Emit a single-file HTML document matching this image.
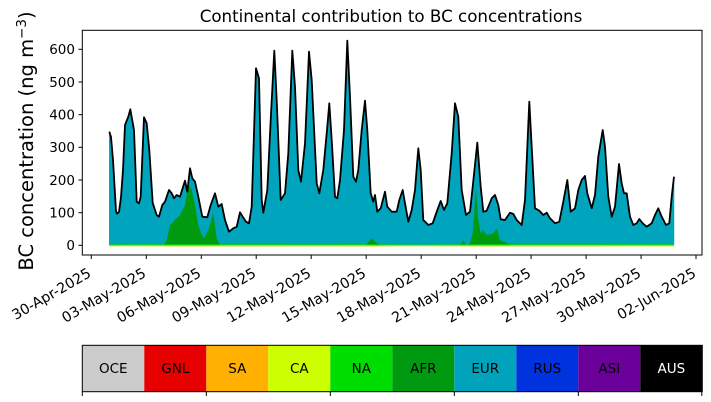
<!DOCTYPE html>
<html><head><meta charset="utf-8"><style>
html,body{margin:0;padding:0;background:#fff;}
svg{display:block;font-family:"DejaVu Sans","Liberation Sans",sans-serif;}
</style></head><body>
<svg width="711" height="402" viewBox="0 0 711 402" xmlns="http://www.w3.org/2000/svg">
<rect width="711" height="402" fill="#fff"/>
<text x="391" y="22" font-size="16.7" text-anchor="middle">Continental contribution to BC concentrations</text>
<!-- EUR area -->
<polygon fill="#00a5bd" stroke="#00a5bd" stroke-width="0.5" points="109.3,245.3 109.3,131.7 111,137 113,160 116,211 117,213.7 119,212 121,197 123,170 125,125 128.3,116.7 130.3,109.3 134,130 136.7,201.7 139,203.3 140.7,196.7 144,117.3 146.7,123.3 149.3,150 152.7,203 156.7,215 159,216.7 162.3,205 165,201.7 169,190 171.7,193.3 174,198.3 176.7,195 180,196.7 185,180.7 187.3,191.7 190,168.3 192.3,178.3 195,181.7 198.3,196.7 202.3,216.7 207.3,217.3 210.7,205 215,193.3 218.3,206.7 221.7,204 225,220 229,231.7 233.3,228.3 236.7,226.7 240,212.3 242.7,216.7 246,221.7 249,223.3 251.7,206.7 256,68.3 259,78.3 261.7,200 263.3,212.7 267.3,190 270.7,120 274.3,50.7 276.7,100 280.7,200 285,193.3 288.3,153.3 292.3,50.7 295,86.7 298.3,170 301,181.7 305,143.3 309,51.7 311.7,80 316.7,183.3 319.3,193.3 323.3,170 327.3,126.7 329.3,103.3 331.7,140 335,196.7 337.3,198.3 340,180 344,130 347.3,40.7 350,96.7 353.3,176.7 356,181.7 358.3,170 361.7,130 365,100.7 367.3,130 370.7,193.3 373.3,201.7 375,195 377.3,211.7 380.7,208.3 385,191.7 387.3,206.7 391.7,211.7 396.7,211.7 399.3,200 402.7,190 405,203.3 408.3,221.7 411.7,210 415,190 418.3,148.3 420.7,170 423.3,220 428.3,225 432.7,223.3 436.7,211.7 440.7,201 444,210 447.3,203.3 451.7,153.3 455,103.3 458.3,116.7 461.7,190 466,215 470,211.7 472.7,186.7 477.3,142.7 480.7,186.7 483.3,211.7 486.7,210.7 491.7,198.3 495,195 498.3,205 500.7,219.3 505,220 510,212.7 513.3,214 516.7,220 521.7,225 525,200 529.3,101.7 531.7,146.7 535,208.3 539.3,210.7 543.3,215 546.7,212.7 550,218.3 555,223.3 559.3,221.7 563.3,201.7 567.3,180 570.7,211.7 575,208.3 578.3,190 581.7,180 585,176 587.3,193.3 591.7,208.3 595,195 598.3,156.7 602.7,130 605,146.7 608.3,196.7 611.7,216.7 615,206.7 619,164 621.7,183.3 624,193.3 626.7,193.3 630,216.7 633.3,225 636.7,223.3 639.3,219 642.7,223.3 646.7,226.7 651.7,223.3 655,215 658.3,208.3 661.7,216.7 666,225 669.3,223.3 671.7,196.7 674,176.7 674,245.3"/>
<!-- AFR -->
<polygon fill="#009a10" points="164,245.3 166.7,240 170,225 173,222 176.7,218 180,215 185,205 188.3,183.3 191.7,190 195,205 198.3,225 201.7,235 204,238.3 208.3,230 213.3,213.3 216.7,238 220,245.3"/>
<polygon fill="#009a10" points="366,245.3 371.7,238.3 378,244 384,245.3"/>
<polygon fill="#009a10" points="460,245.3 463.3,240 466,245.3 468,245.3 470,243 472.7,233 476,188 478.3,220 480.7,233 483.3,230 486.7,235 493.3,233.3 496.7,228.3 500,240 506.7,243 512,245.3"/>
<!-- NA / CA thin baseline -->
<polyline fill="none" stroke="#00dd00" stroke-width="0.8" points="109.3,244.8 240,244.4 300,244.8 360,244.6 420,245 520,244.4 600,244.4 674,244.3"/>
<polyline fill="none" stroke="#d8c800" stroke-width="0.6" opacity="0.7" points="109.3,246.2 200,246.4 300,246.4 400,246.5 500,246.3 600,246.6 674,246.4"/>
<!-- total line -->
<polyline fill="none" stroke="#000" stroke-width="1.8" stroke-linejoin="round" points="109.3,131.7 111,137 113,160 116,211 117,213.7 119,212 121,197 123,170 125,125 128.3,116.7 130.3,109.3 134,130 136.7,201.7 139,203.3 140.7,196.7 144,117.3 146.7,123.3 149.3,150 152.7,203 156.7,215 159,216.7 162.3,205 165,201.7 169,190 171.7,193.3 174,198.3 176.7,195 180,196.7 185,180.7 187.3,191.7 190,168.3 192.3,178.3 195,181.7 198.3,196.7 202.3,216.7 207.3,217.3 210.7,205 215,193.3 218.3,206.7 221.7,204 225,220 229,231.7 233.3,228.3 236.7,226.7 240,212.3 242.7,216.7 246,221.7 249,223.3 251.7,206.7 256,68.3 259,78.3 261.7,200 263.3,212.7 267.3,190 270.7,120 274.3,50.7 276.7,100 280.7,200 285,193.3 288.3,153.3 292.3,50.7 295,86.7 298.3,170 301,181.7 305,143.3 309,51.7 311.7,80 316.7,183.3 319.3,193.3 323.3,170 327.3,126.7 329.3,103.3 331.7,140 335,196.7 337.3,198.3 340,180 344,130 347.3,40.7 350,96.7 353.3,176.7 356,181.7 358.3,170 361.7,130 365,100.7 367.3,130 370.7,193.3 373.3,201.7 375,195 377.3,211.7 380.7,208.3 385,191.7 387.3,206.7 391.7,211.7 396.7,211.7 399.3,200 402.7,190 405,203.3 408.3,221.7 411.7,210 415,190 418.3,148.3 420.7,170 423.3,220 428.3,225 432.7,223.3 436.7,211.7 440.7,201 444,210 447.3,203.3 451.7,153.3 455,103.3 458.3,116.7 461.7,190 466,215 470,211.7 472.7,186.7 477.3,142.7 480.7,186.7 483.3,211.7 486.7,210.7 491.7,198.3 495,195 498.3,205 500.7,219.3 505,220 510,212.7 513.3,214 516.7,220 521.7,225 525,200 529.3,101.7 531.7,146.7 535,208.3 539.3,210.7 543.3,215 546.7,212.7 550,218.3 555,223.3 559.3,221.7 563.3,201.7 567.3,180 570.7,211.7 575,208.3 578.3,190 581.7,180 585,176 587.3,193.3 591.7,208.3 595,195 598.3,156.7 602.7,130 605,146.7 608.3,196.7 611.7,216.7 615,206.7 619,164 621.7,183.3 624,193.3 626.7,193.3 630,216.7 633.3,225 636.7,223.3 639.3,219 642.7,223.3 646.7,226.7 651.7,223.3 655,215 658.3,208.3 661.7,216.7 666,225 669.3,223.3 671.7,196.7 674,176.7"/>
<!-- axes -->
<rect x="82.3" y="30.3" width="619.7" height="224.7" fill="none" stroke="#000" stroke-width="1"/>
<g stroke="#000" stroke-width="1">
<line x1="78.5" y1="245.3" x2="82.3" y2="245.3"/><line x1="78.5" y1="212.7" x2="82.3" y2="212.7"/><line x1="78.5" y1="180" x2="82.3" y2="180"/><line x1="78.5" y1="147.3" x2="82.3" y2="147.3"/><line x1="78.5" y1="114.7" x2="82.3" y2="114.7"/><line x1="78.5" y1="82" x2="82.3" y2="82"/><line x1="78.5" y1="49.3" x2="82.3" y2="49.3"/>
</g>
<g font-size="13.5" text-anchor="end">
<text x="75" y="250">0</text><text x="75" y="217.5">100</text><text x="75" y="185">200</text><text x="75" y="152">300</text><text x="75" y="119.5">400</text><text x="75" y="87">500</text><text x="75" y="54">600</text>
</g>
<text transform="translate(33,141) rotate(-90)" font-size="19.5" text-anchor="middle">BC concentration (ng m<tspan dy="-7" font-size="13.5">−3</tspan><tspan dy="7">)</tspan></text>
<g stroke="#000" stroke-width="1">
<line x1="91.3" y1="255" x2="91.3" y2="259"/><line x1="146.3" y1="255" x2="146.3" y2="259"/><line x1="201.3" y1="255" x2="201.3" y2="259"/><line x1="256.2" y1="255" x2="256.2" y2="259"/><line x1="311.2" y1="255" x2="311.2" y2="259"/><line x1="366.2" y1="255" x2="366.2" y2="259"/><line x1="421.2" y1="255" x2="421.2" y2="259"/><line x1="476.2" y1="255" x2="476.2" y2="259"/><line x1="531.1" y1="255" x2="531.1" y2="259"/><line x1="586.1" y1="255" x2="586.1" y2="259"/><line x1="641.1" y1="255" x2="641.1" y2="259"/><line x1="696" y1="255" x2="696" y2="259"/>
</g>
<g font-size="14.3" text-anchor="end">
<text transform="translate(92,276) rotate(-30)">30-Apr-2025</text>
<text transform="translate(147,276) rotate(-30)">03-May-2025</text>
<text transform="translate(202,276) rotate(-30)">06-May-2025</text>
<text transform="translate(257,276) rotate(-30)">09-May-2025</text>
<text transform="translate(312,276) rotate(-30)">12-May-2025</text>
<text transform="translate(367,276) rotate(-30)">15-May-2025</text>
<text transform="translate(422,276) rotate(-30)">18-May-2025</text>
<text transform="translate(477,276) rotate(-30)">21-May-2025</text>
<text transform="translate(532,276) rotate(-30)">24-May-2025</text>
<text transform="translate(587,276) rotate(-30)">27-May-2025</text>
<text transform="translate(642,276) rotate(-30)">30-May-2025</text>
<text transform="translate(697,276) rotate(-30)">02-Jun-2025</text>
</g>
<!-- colorbar -->
<rect x="82.3" y="345.3" width="62" height="46.4" fill="#cccccc"/>
<rect x="144.3" y="345.3" width="62" height="46.4" fill="#e60000"/>
<rect x="206.3" y="345.3" width="62" height="46.4" fill="#ffb000"/>
<rect x="268.3" y="345.3" width="62" height="46.4" fill="#ccff00"/>
<rect x="330.3" y="345.3" width="62" height="46.4" fill="#00dd00"/>
<rect x="392.3" y="345.3" width="62" height="46.4" fill="#009a10"/>
<rect x="454.3" y="345.3" width="62" height="46.4" fill="#00a3bb"/>
<rect x="516.3" y="345.3" width="62" height="46.4" fill="#0033dd"/>
<rect x="578.3" y="345.3" width="62" height="46.4" fill="#6a0099"/>
<rect x="640.3" y="345.3" width="62" height="46.4" fill="#000"/>
<rect x="82.3" y="345.3" width="620" height="46.4" fill="none" stroke="#000" stroke-width="1"/>
<g font-size="13.5" text-anchor="middle">
<text x="113.3" y="373">OCE</text><text x="175.3" y="373">GNL</text><text x="237.3" y="373">SA</text><text x="299.3" y="373">CA</text><text x="361.3" y="373">NA</text><text x="423.3" y="373">AFR</text><text x="485.3" y="373">EUR</text><text x="547.3" y="373">RUS</text><text x="609.3" y="373">ASI</text><text x="671.3" y="373" fill="#fff">AUS</text>
</g>
<g stroke="#000" stroke-width="1">
<line x1="82.3" y1="391.7" x2="82.3" y2="396"/><line x1="206.3" y1="391.7" x2="206.3" y2="396"/><line x1="330.3" y1="391.7" x2="330.3" y2="396"/><line x1="454.3" y1="391.7" x2="454.3" y2="396"/><line x1="578.3" y1="391.7" x2="578.3" y2="396"/><line x1="701.8" y1="391.7" x2="701.8" y2="396"/>
</g>
</svg>
</body></html>
